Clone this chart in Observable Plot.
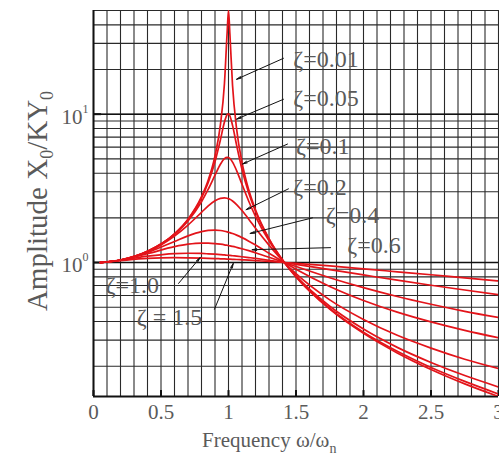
<!DOCTYPE html>
<html><head><meta charset="utf-8">
<script src="https://cdn.jsdelivr.net/npm/d3@7"></script>
<script src="https://cdn.jsdelivr.net/npm/@observablehq/plot@0.6"></script>
<style>body{margin:0;background:#fff} svg{display:block}</style>
</head><body><div id="chart"></div>
<script>
// frequency ratio ω/ωn (x positions)
const frequency = [0.05, 0.2, 0.4, 0.6, 0.7, 0.8, 0.85, 0.9, 0.94, 0.97, 0.99, 1.0, 1.01, 1.03, 1.06, 1.1, 1.15, 1.2, 1.3, 1.414, 1.5, 1.75, 2.0, 2.25, 2.5, 2.75, 3.0];
// amplitude ratio X0/KY0 for each damping ratio
const amp001 = [1.00, 1.04, 1.19, 1.56, 1.96, 2.78, 3.60, 5.24, 8.48, 16.1, 35.6, 50.0, 35.1, 15.6, 7.97, 4.74, 3.09, 2.27, 1.45, 1.00, 0.800, 0.485, 0.333, 0.246, 0.190, 0.152, 0.125];
const amp005 = [1.00, 1.04, 1.19, 1.56, 1.95, 2.72, 3.46, 4.78, 6.71, 8.85, 9.95, 10.05, 9.76, 8.40, 6.18, 4.24, 2.94, 2.21, 1.44, 1.00, 0.803, 0.490, 0.339, 0.252, 0.196, 0.158, 0.130];
const amp01  = [1.00, 1.04, 1.19, 1.55, 1.91, 2.57, 3.12, 3.88, 4.60, 5.02, 5.12, 5.10, 5.03, 4.75, 4.17, 3.37, 2.59, 2.05, 1.40, 1.00, 0.812, 0.507, 0.356, 0.268, 0.212, 0.173, 0.145];
const amp02  = [1.00, 1.04, 1.18, 1.51, 1.79, 2.18, 2.41, 2.61, 2.71, 2.73, 2.71, 2.69, 2.67, 2.60, 2.46, 2.24, 1.96, 1.70, 1.31, 1.00, 0.841, 0.560, 0.413, 0.323, 0.265, 0.223, 0.193];
const amp04  = [1.00, 1.04, 1.168, 1.387, 1.513, 1.617, 1.647, 1.655, 1.644, 1.626, 1.610, 1.601, 1.591, 1.568, 1.530, 1.472, 1.394, 1.313, 1.156, 1.00, 0.902, 0.690, 0.555, 0.463, 0.398, 0.349, 0.311];
const amp06  = [1.00, 1.039, 1.147, 1.279, 1.329, 1.352, 1.351, 1.342, 1.329, 1.317, 1.307, 1.302, 1.296, 1.285, 1.266, 1.239, 1.203, 1.164, 1.086, 1.00, 0.940, 0.790, 0.677, 0.590, 0.523, 0.469, 0.426];
const amp10  = [1.00, 1.036, 1.104, 1.149, 1.155, 1.151, 1.145, 1.138, 1.131, 1.125, 1.120, 1.118, 1.116, 1.111, 1.104, 1.094, 1.080, 1.066, 1.036, 1.00, 0.973, 0.896, 0.825, 0.760, 0.703, 0.653, 0.608];
const amp15  = [1.00, 1.030, 1.066, 1.078, 1.076, 1.071, 1.068, 1.064, 1.060, 1.057, 1.055, 1.054, 1.053, 1.051, 1.048, 1.043, 1.037, 1.030, 1.017, 1.00, 0.987, 0.948, 0.907, 0.866, 0.827, 0.788, 0.752];

const dampingNames = ["0.01", "0.05", "0.1", "0.2", "0.4", "0.6", "1.0", "1.5"];
const dampingSeries = [amp001, amp005, amp01, amp02, amp04, amp06, amp10, amp15];

// annotation labels and leader lines (data coordinates)
const labelTexts = ["ζ=0.01", "ζ=0.05", "ζ=0.1", "ζ=0.2", "ζ=0.4", "ζ=0.6", "ζ=1.0", "ζ = 1.5"];
const labelX = [1.48, 1.48, 1.50, 1.48, 1.72, 1.88, 0.09, 0.32];
const labelY = [23.5, 12.8, 6.1, 3.19, 2.07, 1.30, 0.70, 0.43];
const leaderFromX = [1.407, 1.407, 1.437, 1.444, 1.622, 1.756, 0.63, 0.896];
const leaderFromY = [23.8, 12.6, 6.29, 3.14, 2.00, 1.26, 0.723, 0.484];
const leaderToX = [1.06, 1.06, 1.105, 1.13, 1.16, 1.175, 0.79, 1.035];
const leaderToY = [17.2, 9.26, 4.62, 2.27, 1.57, 1.22, 1.08, 0.985];

// axes
const xTickValues = [0, 0.5, 1, 1.5, 2, 2.5, 3];
const xTickLabels = ["0", "0.5", "1", "1.5", "2", "2.5", "3"];
const yTickValues = [1, 10];
const yTickBase = ["10", "10"];
const yTickExp = ["0", "1"];
const xGrid = [0, 0.1, 0.2, 0.3, 0.4, 0.5, 0.6, 0.7, 0.8, 0.9, 1, 1.1, 1.2, 1.3, 1.4, 1.5, 1.6, 1.7, 1.8, 1.9, 2, 2.1, 2.2, 2.3, 2.4, 2.5, 2.6, 2.7, 2.8, 2.9, 3];
const yGrid = [0.2, 0.3, 0.4, 0.5, 0.6, 0.7, 0.8, 0.9, 1, 2, 3, 4, 5, 6, 7, 8, 9, 10, 20, 30, 40, 50];

const rows = dampingNames.flatMap((z, k) => frequency.map((f, i) => ({zeta: z, x: f, y: dampingSeries[k][i]})));
const labels = labelTexts.map((t, i) => ({t, x: labelX[i], y: labelY[i]}));
const leaders = labelTexts.map((t, i) => ({x1: leaderFromX[i], y1: leaderFromY[i], x2: leaderToX[i], y2: leaderToY[i]}));
const xticks = xTickValues.map((v, i) => ({v, t: xTickLabels[i]}));
const yticks = yTickValues.map((v, i) => ({v, b: yTickBase[i], e: yTickExp[i]}));

const serif = "Liberation Serif, Times New Roman, serif";
const textGrey = "#5a5a5a";

const chart = Plot.plot({
  width: 499, height: 459,
  marginLeft: 93, marginRight: 1, marginTop: 10, marginBottom: 63,
  x: {domain: [0, 3], axis: null},
  y: {type: "log", domain: [0.125, 50], axis: null},
  style: {background: "white", overflow: "visible"},
  marks: [
    Plot.ruleX(xGrid, {stroke: "#2a2a2a", strokeWidth: 1.1}),
    Plot.ruleY(yGrid, {stroke: "#2a2a2a", strokeWidth: 1.1}),
    Plot.ruleY([1, 10], {stroke: "#111", strokeWidth: 1.6}),
    Plot.ruleX([0], {stroke: "#111", strokeWidth: 2}),
    Plot.ruleY([0.125], {stroke: "#111", strokeWidth: 2}),
    Plot.ruleX(xTickValues, {y1: 0.125, y2: 0.137, stroke: "#111", strokeWidth: 2}),
    Plot.ruleY(yTickValues, {x1: 0, x2: 0.06, stroke: "#111", strokeWidth: 2}),
    Plot.line(rows, {x: "x", y: "y", z: "zeta", stroke: "#e3141a", strokeWidth: 1.7, curve: "monotone-x", clip: true}),
    Plot.arrow(leaders, {x1: "x1", y1: "y1", x2: "x2", y2: "y2", stroke: "#111", strokeWidth: 1, headLength: 7, headAngle: 22}),
    Plot.text(labels, {x: "x", y: "y", text: "t", textAnchor: "start", fontSize: 24, fill: textGrey, fontFamily: serif}),
    Plot.text(xticks, {x: "v", y: () => 0.125, text: "t", dy: 16, fontSize: 21, fill: textGrey, fontFamily: serif}),
    Plot.text(yticks, {x: () => 0, y: "v", text: "b", textAnchor: "end", dx: -11, dy: 3, fontSize: 21, fill: textGrey, fontFamily: serif}),
    Plot.text(yticks, {x: () => 0, y: "v", text: "e", textAnchor: "start", dx: -11, dy: -5, fontSize: 12, fill: textGrey, fontFamily: serif})
  ]
});

const svg = d3.select(chart);
// y axis title
const yt = svg.append("text")
  .attr("transform", "translate(47,201) rotate(-90)")
  .attr("text-anchor", "middle")
  .attr("font-family", serif).attr("font-size", 29).attr("fill", textGrey);
yt.append("tspan").text("Amplitude X");
yt.append("tspan").attr("font-size", 18).attr("dy", 6).text("0");
yt.append("tspan").attr("dy", -6).text("/KY");
yt.append("tspan").attr("font-size", 18).attr("dy", 6).text("0");
// x axis title
const xt = svg.append("text")
  .attr("x", 202).attr("y", 447)
  .attr("text-anchor", "start")
  .attr("font-family", serif).attr("font-size", 21).attr("fill", textGrey);
xt.append("tspan").text("Frequency ω/ω");
xt.append("tspan").attr("font-size", 14).attr("dy", 6).text("n");

document.getElementById("chart").appendChild(chart);
</script>
</body></html>
